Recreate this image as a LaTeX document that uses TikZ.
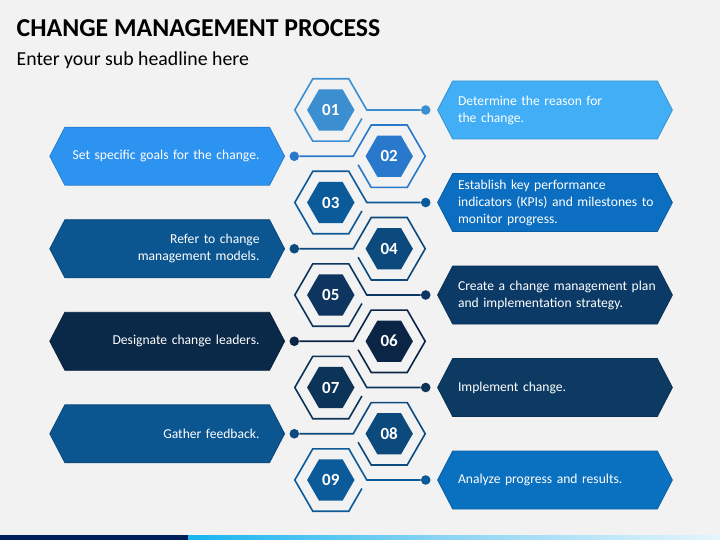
\documentclass[tikz,border=0pt]{standalone}
\usepackage{fontspec}
\setmainfont{Carlito}
\usepackage{xcolor}
\usepackage{tikz}
\usetikzlibrary{positioning,shapes.geometric,shapes.symbols}

\definecolor{bgc}{HTML}{F2F2F2}
\definecolor{hx1}{HTML}{3B8ED0}
\definecolor{hx2}{HTML}{2878CC}
\definecolor{hx3}{HTML}{0B5A9A}
\definecolor{hx4}{HTML}{0C4A7E}
\definecolor{hx5}{HTML}{0D3560}
\definecolor{hx6}{HTML}{0A2545}
\definecolor{hx7}{HTML}{0C3358}
\definecolor{hx8}{HTML}{0C4A7E}
\definecolor{hx9}{HTML}{0B5A9A}
\definecolor{bx1}{HTML}{42AEF5}
\definecolor{bx2}{HTML}{2D93F0}
\definecolor{bx3}{HTML}{0B6EC0}
\definecolor{bx4}{HTML}{0B5590}
\definecolor{bx5}{HTML}{0C3A66}
\definecolor{bx6}{HTML}{0A2848}
\definecolor{bx7}{HTML}{0C3A62}
\definecolor{bx8}{HTML}{0B5590}
\definecolor{bx9}{HTML}{0A70C0}
\definecolor{barnavy}{HTML}{001E5A}
\definecolor{bar0}{HTML}{0A6CBE}
\definecolor{bar1}{HTML}{00AEEF}
\definecolor{bar2}{HTML}{8AD4F3}
\definecolor{bar3}{HTML}{F2FAFE}
\definecolor{bar4}{HTML}{6DC7EE}
\pgfdeclarehorizontalshading{barfade}{100bp}{color(0bp)=(bar0); color(20bp)=(bar1); color(49bp)=(bar2); color(79bp)=(bar3); color(100bp)=(bar4)}

\begin{document}
\begin{tikzpicture}[x=1pt, y=-1pt,
  frame/.style={line width=1.6pt},
  dot/.style={circle, fill, inner sep=0pt, minimum size=9.6pt},
  hexnum/.style={regular polygon, regular polygon sides=6, minimum size=47.4pt, inner sep=0pt, text=white, font=\bfseries\fontsize{17}{17}\selectfont},
  rbox/.style={signal, signal to=east and west, signal pointer angle=125, minimum height=58pt, inner xsep=5.3pt, text width=194pt, align=left, text=white, line width=0.8pt, font=\fontsize{13.6}{17}\selectfont},
  lbox/.style={rbox, inner xsep=10pt, text width=184.6pt, align=right}]
\useasboundingbox (0,0) rectangle (720,540);
\fill[bgc] (0,0) rectangle (720,540);

\node[anchor=base west, inner sep=0pt, font=\bfseries\fontsize{25.8}{30}\selectfont] (title) at (16.5,37) {CHANGE MANAGEMENT PROCESS};
\node[anchor=base west, inner sep=0pt, font=\fontsize{19.8}{22}\selectfont] (subtitle) at (16.5,66) {Enter your sub headline here};

% hexagon centres
\coordinate (c1) at (330.8,110);
\coordinate (c2) at (389.2,156.25);
\coordinate (c3) at (330.8,202.5);
\coordinate (c4) at (389.2,248.75);
\coordinate (c5) at (330.8,295);
\coordinate (c6) at (389.2,341.25);
\coordinate (c7) at (330.8,387.5);
\coordinate (c8) at (389.2,433.75);
\coordinate (c9) at (330.8,480);

% dots
\node[dot, hx1] (d1) at (425.7,110) {};
\node[dot, hx2] (d2) at (294.3,156.25) {};
\node[dot, hx3] (d3) at (425.7,202.5) {};
\node[dot, hx4] (d4) at (294.3,248.75) {};
\node[dot, hx5] (d5) at (425.7,295) {};
\node[dot, hx6] (d6) at (294.3,341.25) {};
\node[dot, hx7] (d7) at (425.7,387.5) {};
\node[dot, hx8] (d8) at (294.3,433.75) {};
\node[dot, hx9] (d9) at (425.7,480) {};

% open frames
\draw[frame, hx1] (d1) -- ([xshift=36pt]c1) -- ++(-18,-31.2) -- ++(-36,0) -- ++(-18,31.2) -- ++(18,31.2) -- ++(36,0) -- ++(13.1,-22.7);
\draw[frame, hx2] (d2) -- ([xshift=-36pt]c2) -- ++(18,-31.2) -- ++(36,0) -- ++(18,31.2) -- ++(-18,31.2) -- ++(-36,0) -- ++(-13.1,-22.7);
\draw[frame, hx3] (d3) -- ([xshift=36pt]c3) -- ++(-18,-31.2) -- ++(-36,0) -- ++(-18,31.2) -- ++(18,31.2) -- ++(36,0) -- ++(13.1,-22.7);
\draw[frame, hx4] (d4) -- ([xshift=-36pt]c4) -- ++(18,-31.2) -- ++(36,0) -- ++(18,31.2) -- ++(-18,31.2) -- ++(-36,0) -- ++(-13.1,-22.7);
\draw[frame, hx5] (d5) -- ([xshift=36pt]c5) -- ++(-18,-31.2) -- ++(-36,0) -- ++(-18,31.2) -- ++(18,31.2) -- ++(36,0) -- ++(13.1,-22.7);
\draw[frame, hx6] (d6) -- ([xshift=-36pt]c6) -- ++(18,-31.2) -- ++(36,0) -- ++(18,31.2) -- ++(-18,31.2) -- ++(-36,0) -- ++(-13.1,-22.7);
\draw[frame, hx7] (d7) -- ([xshift=36pt]c7) -- ++(-18,-31.2) -- ++(-36,0) -- ++(-18,31.2) -- ++(18,31.2) -- ++(36,0) -- ++(13.1,-22.7);
\draw[frame, hx8] (d8) -- ([xshift=-36pt]c8) -- ++(18,-31.2) -- ++(36,0) -- ++(18,31.2) -- ++(-18,31.2) -- ++(-36,0) -- ++(-13.1,-22.7);
\draw[frame, hx9] (d9) -- ([xshift=36pt]c9) -- ++(-18,-31.2) -- ++(-36,0) -- ++(-18,31.2) -- ++(18,31.2) -- ++(36,0) -- ++(13.1,-22.7);

% numbered hexagons
\node[hexnum, fill=hx1] (n1) at (c1) {01};
\node[hexnum, fill=hx2] (n2) at (c2) {02};
\node[hexnum, fill=hx3] (n3) at (c3) {03};
\node[hexnum, fill=hx4] (n4) at (c4) {04};
\node[hexnum, fill=hx5] (n5) at (c5) {05};
\node[hexnum, fill=hx6] (n6) at (c6) {06};
\node[hexnum, fill=hx7] (n7) at (c7) {07};
\node[hexnum, fill=hx8] (n8) at (c8) {08};
\node[hexnum, fill=hx9] (n9) at (c9) {09};

% step boxes
\node[rbox, fill=bx1, draw=bx1!85!black] (b1) at (555,110) {Determine the reason for\\the change.};
\node[lbox, fill=bx2, draw=bx2!85!black] (b2) at (167.2,156.25) {\makebox[\linewidth][r]{Set specific goals for the change.}};
\node[rbox, fill=bx3, draw=bx3!85!black] (b3) at (555,202.5) {Establish key performance\\\mbox{indicators (KPIs) and milestones to}\\monitor progress.};
\node[lbox, fill=bx4, draw=bx4!85!black] (b4) at (167.2,248.75) {Refer to change\\management models.};
\node[rbox, fill=bx5, draw=bx5!85!black] (b5) at (555,295) {\mbox{Create a change management plan}\\and implementation strategy.};
\node[lbox, fill=bx6, draw=bx6!85!black] (b6) at (167.2,341.25) {Designate change leaders.};
\node[rbox, fill=bx7, draw=bx7!85!black] (b7) at (555,387.5) {Implement change.};
\node[lbox, fill=bx8, draw=bx8!85!black] (b8) at (167.2,433.75) {Gather feedback.};
\node[rbox, fill=bx9, draw=bx9!85!black] (b9) at (555,480) {Analyze progress and results.};

% bottom bar
\fill[barnavy] (0,535) rectangle (188,540);
\shade[shading=barfade] (188,535) rectangle (720,540);
\end{tikzpicture}
\end{document}
